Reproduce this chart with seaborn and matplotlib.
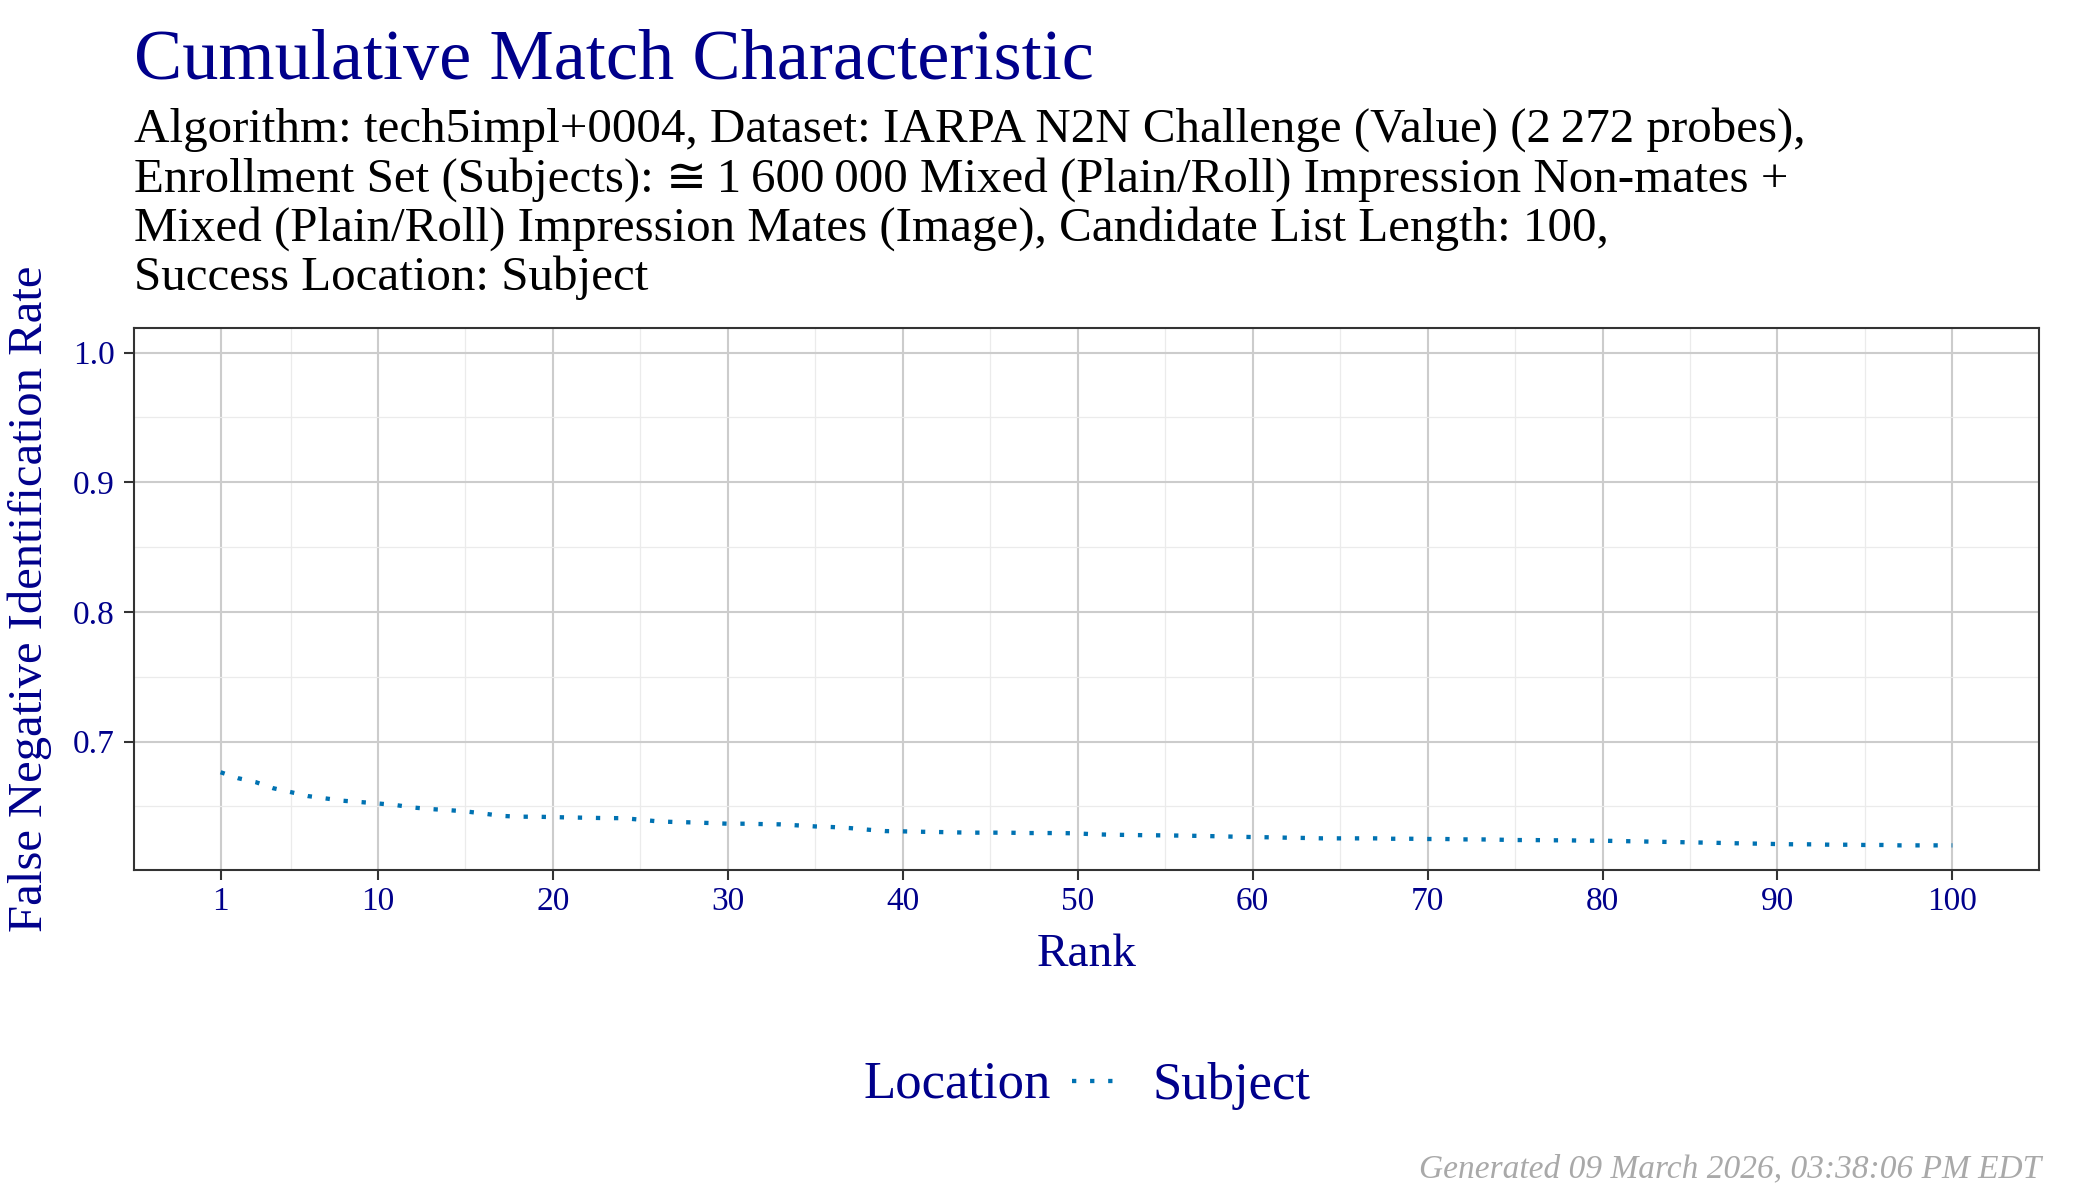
import numpy as np
import pandas as pd
import seaborn as sns
import matplotlib.pyplot as plt
from matplotlib.ticker import FixedLocator

# CMC data: false negative identification rate by rank
ranks = list(range(1, 101))
fnir = [0.6764, 0.6718, 0.6688, 0.6641, 0.6611, 0.6580, 0.6562, 0.6544, 0.6534, 0.6523,
        0.6511, 0.6492, 0.6480, 0.6472, 0.6462, 0.6446, 0.6428, 0.6421, 0.6421, 0.6418,
        0.6415, 0.6413, 0.6410, 0.6410, 0.6398, 0.6385, 0.6380, 0.6377, 0.6372, 0.6367,
        0.6367, 0.6364, 0.6362, 0.6354, 0.6346, 0.6341, 0.6333, 0.6321, 0.6310, 0.6308,
        0.6305, 0.6303, 0.6300, 0.6298, 0.6298, 0.6298, 0.6295, 0.6295, 0.6295, 0.6292,
        0.6285, 0.6282, 0.6280, 0.6278, 0.6277, 0.6275, 0.6273, 0.6270, 0.6267, 0.6264,
        0.6262, 0.6259, 0.6257, 0.6254, 0.6254, 0.6254, 0.6254, 0.6251, 0.6251, 0.6249,
        0.6249, 0.6246, 0.6246, 0.6244, 0.6241, 0.6241, 0.6239, 0.6239, 0.6236, 0.6236,
        0.6233, 0.6231, 0.6228, 0.6226, 0.6223, 0.6221, 0.6218, 0.6215, 0.6213, 0.6210,
        0.6208, 0.6208, 0.6205, 0.6205, 0.6203, 0.6203, 0.6200, 0.6200, 0.6200, 0.6200]
location = ['Subject'] * len(ranks)

x_ticks = [1, 10, 20, 30, 40, 50, 60, 70, 80, 90, 100]
x_tick_labels = ['1', '10', '20', '30', '40', '50', '60', '70', '80', '90', '100']
x_minor = [5, 15, 25, 35, 45, 55, 65, 75, 85, 95]
y_ticks = [0.7, 0.8, 0.9, 1.0]
y_tick_labels = ['0.7', '0.8', '0.9', '1.0']
y_minor = [0.65, 0.75, 0.85, 0.95]

title = 'Cumulative Match Characteristic'
subtitle_lines = [
    'Algorithm: tech5impl+0004, Dataset: IARPA N2N Challenge (Value) (2\u2009272 probes),',
    'Enrollment Set (Subjects): \u2245\u20091\u2009600\u2009000 Mixed (Plain/Roll) Impression Non-mates +',
    'Mixed (Plain/Roll) Impression Mates (Image), Candidate List Length: 100,',
    'Success Location: Subject',
]
caption = 'Generated 09 March 2026, 03:38:06 PM EDT'

df = pd.DataFrame({'Rank': ranks, 'FNIR': fnir, 'Location': location})

sns.set_theme(style='white')
plt.rcParams['font.family'] = ['Liberation Serif', 'DejaVu Sans']

NAVY = '#00008B'
LINE = '#0072B2'
W, H = 2100, 1200
dotted = (0, (1, 3.2))

fig = plt.figure(figsize=(21, 12), dpi=100)
ax = fig.add_axes([134 / W, 1 - 870 / H, (2039 - 134) / W, (870 - 328) / H])

sns.lineplot(data=df, x='Rank', y='FNIR', hue='Location', palette=[LINE],
             linewidth=3.1, ax=ax)
for ln in ax.lines:
    ln.set_linestyle(dotted)

# ggplot-like expansion
xr = max(ranks) - min(ranks)
ax.set_xlim(min(ranks) - 0.05 * xr, max(ranks) + 0.05 * xr)
yr = 1.0 - min(fnir)
ax.set_ylim(min(fnir) - 0.05 * yr, 1.0 + 0.05 * yr)

ax.set_xticks(x_ticks, x_tick_labels)
ax.set_yticks(y_ticks, y_tick_labels)
ax.xaxis.set_minor_locator(FixedLocator(x_minor))
ax.yaxis.set_minor_locator(FixedLocator(y_minor))
ax.grid(which='major', color='#CCCCCC', linewidth=1.5)
ax.grid(which='minor', color='#EBEBEB', linewidth=0.9)
ax.set_axisbelow(True)
ax.tick_params(which='major', direction='out', length=7, width=1.5, color='#333333',
               labelcolor=NAVY, labelsize=24, bottom=True, left=True)
ax.tick_params(axis='x', pad=5)
ax.tick_params(axis='y', pad=7)
ax.tick_params(which='minor', length=0)
for sp in ax.spines.values():
    sp.set_color('#333333')
    sp.set_linewidth(1.5)

ax.set_xlabel('Rank', fontsize=34, color=NAVY)
ax.xaxis.set_label_coords(0.5, (870 - 955) / (870 - 328))
ax.xaxis.label.set_va('center')
ax.set_ylabel('False Negative Identification Rate', fontsize=35, color=NAVY)
ax.yaxis.set_label_coords((29.5 - 134) / (2039 - 134), 0.5)
ax.yaxis.label.set_va('center')

# legend: title to the left of the key, ggplot style
handles, labels = ax.get_legend_handles_labels()
ax.get_legend().remove()
for h in handles:
    h.set_linestyle(dotted)
    h.set_linewidth(3.1)
fig.text(1051 / W, 1 - 1098 / H, 'Location', ha='right', va='baseline',
         fontsize=38, color=NAVY)
leg = fig.legend(handles, labels, loc='center left', bbox_to_anchor=(1072 / W, 1 - 1086 / H),
                 frameon=False, fontsize=38, handlelength=0.95, handletextpad=0.58,
                 borderpad=0, borderaxespad=0)
for t in leg.get_texts():
    t.set_color(NAVY)

fig.text(134 / W, 1 - 79 / H, title, ha='left', va='baseline', fontsize=52, color=NAVY)
for i, line in enumerate(subtitle_lines):
    fig.text(134 / W, 1 - (142 + 49.3 * i) / H, line, ha='left', va='baseline',
             fontsize=35.3, color='black', family=['Liberation Serif', 'DejaVu Sans'])
fig.text(2041 / W, 1 - 1177 / H, caption, ha='right', va='baseline', fontsize=24,
         style='italic', color='#A9A9A9')

fig.savefig('out.png', dpi=100, facecolor='white')
